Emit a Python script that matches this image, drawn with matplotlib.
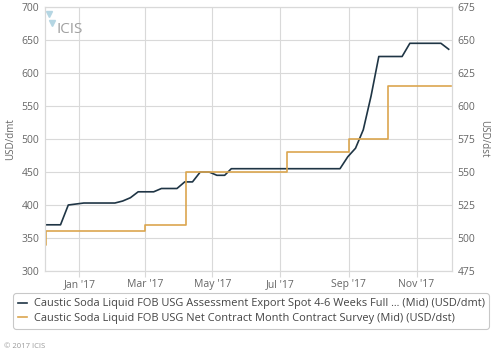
import matplotlib
matplotlib.use("Agg")
import matplotlib.pyplot as plt
import matplotlib.dates as mdates
import pandas as pd

plt.rcParams['font.family'] = ['Open Sans', 'DejaVu Sans']

# spot assessment, weekly (USD/dmt, left axis)
spot_dates = ['2016-12-01', '2016-12-15', '2016-12-22', '2017-01-05', '2017-02-02',
              '2017-02-09', '2017-02-16', '2017-02-23', '2017-03-09', '2017-03-16',
              '2017-03-30', '2017-04-06', '2017-04-13', '2017-04-20', '2017-04-28',
              '2017-05-05', '2017-05-12', '2017-05-18', '2017-08-24', '2017-08-31',
              '2017-09-07', '2017-09-14', '2017-09-21', '2017-09-28', '2017-10-19',
              '2017-10-26', '2017-11-23', '2017-11-30']
spot_vals = [370, 370, 400, 403, 403,
             406, 411, 420, 420, 425,
             425, 435, 435, 450, 450,
             445, 445, 455, 455, 473,
             486, 514, 565, 625, 625,
             645, 645, 636]

# contract survey, monthly (USD/dst, right axis)
contract_dates = ['2016-12-01', '2016-12-02', '2017-03-01', '2017-04-07',
                  '2017-07-07', '2017-09-01', '2017-10-06', '2017-12-02']
contract_vals = [495, 505, 510, 550, 565, 575, 615, 615]

spot_label = "Caustic Soda Liquid FOB USG Assessment Export Spot 4-6 Weeks Full ... (Mid) (USD/dmt)"
contract_label = "Caustic Soda Liquid FOB USG Net Contract Month Contract Survey (Mid) (USD/dst)"

grid_c = '#d9d9d9'
text_c = '#666666'

fig = plt.figure(figsize=(5, 3.57), dpi=100)
ax = fig.add_axes([45/500, 1 - 271/357, 407/500, 264/357])
ax2 = ax.twinx()

l1, = ax.plot(pd.to_datetime(spot_dates), spot_vals, color='#1f3545', lw=1.2)
l2, = ax2.plot(pd.to_datetime(contract_dates), contract_vals, color='#dba64f',
               lw=1.2, drawstyle='steps-post')

ax.set_xlim(pd.Timestamp('2016-12-01'), pd.Timestamp('2017-12-03'))
ax.set_ylim(300, 700)
ax2.set_ylim(475, 675)
ax.set_yticks(range(300, 701, 50))
ax2.set_yticks(range(475, 676, 25))

ax.xaxis.set_major_locator(mdates.MonthLocator(bymonth=[1, 3, 5, 7, 9, 11]))
ax.xaxis.set_major_formatter(mdates.DateFormatter("%b '%y"))

ax.grid(True, color=grid_c, lw=0.8)
ax.set_axisbelow(True)
for a in (ax, ax2):
    for s in a.spines.values():
        s.set_color(grid_c)
        s.set_linewidth(0.8)
    a.tick_params(labelsize=7.5, colors=text_c, length=0, pad=4)
ax.tick_params(axis='x', length=4, color=grid_c, pad=2)

ax.set_ylabel('USD/dmt', fontsize=7, color=text_c, labelpad=4)
ax2.set_ylabel('USD/dst', fontsize=7, color=text_c, rotation=270, labelpad=10)

# ICIS watermark
ax.text(0.028, 0.915, 'ICIS', transform=ax.transAxes, fontsize=11, color='#a0a0a0',
        va='center', ha='left')
ax.plot([0.01, 0.018], [0.975, 0.94], marker='v', ls='none', ms=4,
        color='#b5d6e3', transform=ax.transAxes, clip_on=False)

leg = fig.legend([l1, l2], [spot_label, contract_label],
                 bbox_to_anchor=(8/500, 1 - 332/357, 486/500, 42/357),
                 loc='center left', mode='expand', fontsize=7.9, frameon=True,
                 handlelength=0.8, handletextpad=0.6, labelspacing=0.3,
                 borderpad=0.45, labelcolor='#444444')
leg.get_frame().set_edgecolor('#bbbbbb')
leg.get_frame().set_linewidth(0.8)

fig.text(4/500, 1 - 347/357, '\u00a9 2017 ICIS', fontsize=5.5, color='#999999',
         va='center')

fig.savefig('out.png', dpi=100)
